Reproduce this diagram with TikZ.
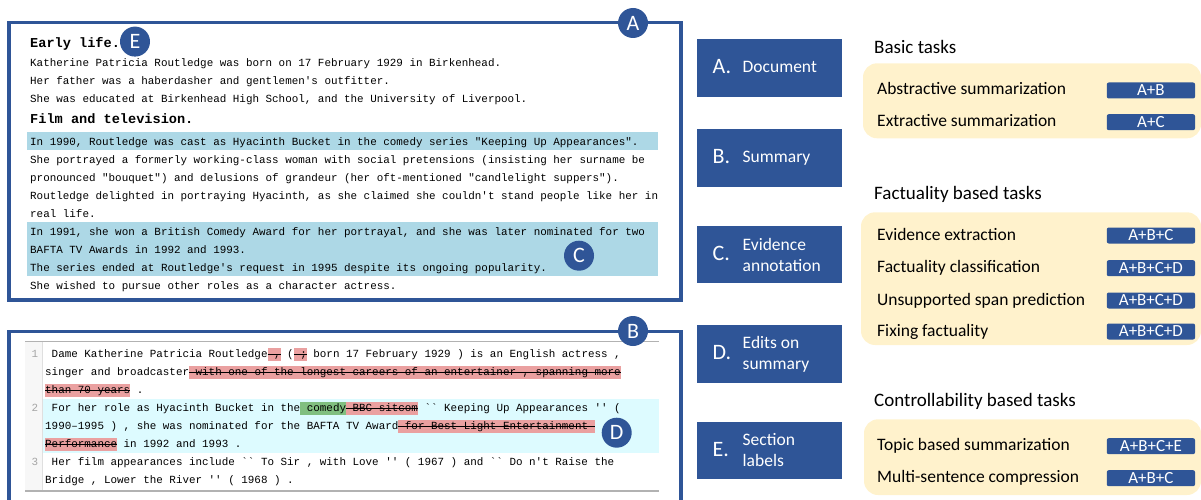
\documentclass[tikz,border=0pt]{standalone}
\usepackage{fontspec}
\setmainfont{Carlito}
\setmonofont{Liberation Mono}
\usetikzlibrary{positioning}

\definecolor{frameblue}{HTML}{2F5597}
\definecolor{hlblue}{HTML}{ADD8E6}
\definecolor{rowcyan}{HTML}{DDFBFF}
\definecolor{delred}{HTML}{EAA0A0}
\definecolor{insgreen}{HTML}{80BF80}
\definecolor{cream}{HTML}{FFF2CC}

\newsavebox\editbox
\newcommand\editstrut{\vrule height 9.3pt depth 2.9pt width 0pt\relax}
\newcommand\deltext[1]{\sbox\editbox{#1}{\setlength\fboxsep{0pt}\colorbox{delred}{\rlap{\rule[2.6pt]{\wd\editbox}{0.7pt}}\editstrut\usebox\editbox}}}
\newcommand\instext[1]{{\setlength\fboxsep{0pt}\colorbox{insgreen}{#1\editstrut}}}

\begin{document}
\begin{tikzpicture}
[x=1pt, y=-1pt,
  panelframe/.style={draw=frameblue, line width=3.3pt},%
  tagcircle/.style={circle, fill=frameblue, text=white, minimum size=30pt, inner sep=0pt, font=\fontsize{22}{22}\selectfont},%
  docline/.style={anchor=west, inner sep=0pt, text height=7.5pt, text depth=2.5pt, font=\ttfamily\fontsize{10.9}{18}\selectfont},%
  dochead/.style={docline, font=\ttfamily\bfseries\fontsize{13.6}{18}\selectfont},%
  gutternum/.style={docline, anchor=center, text=gray!70},%
  labelbox/.style={fill=frameblue, minimum width=145pt, minimum height=57.5pt, inner sep=0pt},%
  boxletter/.style={anchor=base west, inner sep=0pt, text=white, font=\fontsize{22}{22}\selectfont},%
  boxtext/.style={anchor=base west, inner sep=0pt, align=left, text=white, font=\fontsize{17.5}{21}\selectfont},%
  grouphead/.style={anchor=base west, inner sep=0pt, font=\fontsize{19}{22}\selectfont},%
  tasktext/.style={anchor=base west, inner sep=0pt, font=\fontsize{17.5}{21}\selectfont},%
  needbadge/.style={fill=frameblue, rounded corners=2pt, minimum width=88.3pt, minimum height=16pt, inner sep=0pt, text=white, font=\fontsize{17}{17}\selectfont}]
\useasboundingbox (0,0) rectangle (1201,500);

%% document panel (A)
\fill[hlblue] (27,132) rectangle (658,150);
\fill[hlblue] (27,221.7) rectangle (658,275.7);
\node[dochead] (headEarly) at (30,45.2) {Early life.};
\foreach \n/\y/\txt in {1/63.8/{Katherine Patricia Routledge was born on 17 February 1929 in Birkenhead.},
  2/81.8/{Her father was a haberdasher and gentlemen's outfitter.},
  3/99.8/{She was educated at Birkenhead High School, and the University of Liverpool.}}
{
  \node[docline] (early\n) at (30,\y) {\txt};
}
\node[dochead] (headFilm) at (30,120.8) {Film and television.};
\foreach \n/\y/\txt in {1/143.2/{In 1990, Routledge was cast as Hyacinth Bucket in the comedy series "Keeping Up Appearances".},
  2/161.2/{She portrayed a formerly working-class woman with social pretensions (insisting her surname be},
  3/179.2/{pronounced "bouquet") and delusions of grandeur (her oft-mentioned "candlelight suppers").},
  4/197.2/{Routledge delighted in portraying Hyacinth, as she claimed she couldn't stand people like her in},
  5/215.2/{real life.},
  6/233.2/{In 1991, she won a British Comedy Award for her portrayal, and she was later nominated for two},
  7/251.2/{BAFTA TV Awards in 1992 and 1993.},
  8/269.2/{The series ended at Routledge's request in 1995 despite its ongoing popularity.},
  9/287.2/{She wished to pursue other roles as a character actress.}}
{
  \node[docline] (film\n) at (30,\y) {\txt};
}
\draw[panelframe] (9,22.3) rectangle (681,300);

%% summary panel (B)
\fill[gray!6] (25,341.7) rectangle (42,491);
\fill[rowcyan] (42,399) rectangle (659,452.7);
\draw[gray!25] (42,341.7) -- (42,491);
\draw[gray!60, line width=1.2pt] (25,341.7) -- (659,341.7);
\draw[gray!60, line width=1.2pt] (25,491) -- (659,491);
\foreach \n/\y in {1/355.2, 2/409.2, 3/463.2}
{
  \node[gutternum] (num\n) at (35,\y) {\n};
}
\foreach \n/\y/\txt in {1/355.2/{\ Dame Katherine Patricia Routledge\deltext{ ,} (\deltext{ ;} born 17 February 1929 ) is an English actress ,},
  2/373.2/{singer and broadcaster\deltext{ with one of the longest careers of an entertainer , spanning more}},
  3/391.2/{\deltext{than 70 years} .},
  4/409.2/{\ For her role as Hyacinth Bucket in the\instext{ comedy}\deltext{ BBC sitcom} `` Keeping Up Appearances '' (},
  5/427.2/{1990–1995 ) , she was nominated for the BAFTA TV Award\deltext{ for Best Light Entertainment }},
  6/445.2/{\deltext{Performance} in 1992 and 1993 .},
  7/463.2/{\ Her film appearances include `` To Sir , with Love '' ( 1967 ) and `` Do n't Raise the},
  8/481.2/{Bridge , Lower the River '' ( 1968 ) .}}
{
  \node[docline] (summ\n) at (45,\y) {\txt};
}
\draw[panelframe] (9,500) -- (9,331.7) -- (681,331.7) -- (681,500);

%% circled tags
\node[tagcircle] (tagA) at (633,23) {A};
\node[tagcircle] (tagE) at (135,41.6) {E};
\node[tagcircle] (tagC) at (579,255.7) {C};
\node[tagcircle] (tagB) at (633,331) {B};
\node[tagcircle] (tagD) at (616.7,432.7) {D};

%% legend boxes
\foreach \k/\y/\s/\txt in {A/68/-4.7/Document, B/158/-4.7/Summary, C/254.5/-16.6/{Evidence\\annotation},
  D/354/-15.6/{Edits on\\summary}, E/450.5/-16.2/{Section\\labels}}
{
  \node[labelbox] (box\k) at (769.5,\y) {};
  \node[boxletter] (let\k) at ([xshift=15.7pt, yshift=-5.6pt]box\k.west) {\k.};
  \node[boxtext] (txt\k) at ([xshift=45.7pt, yshift=\s pt]box\k.west) {\txt};
}

%% task groups
\fill[cream, rounded corners=14pt] (863,63.3) rectangle (1201,138.3);
\fill[cream, rounded corners=14pt] (861,212.3) rectangle (1201,345);
\fill[cream, rounded corners=14pt] (864,419.3) rectangle (1201,495);
\node[grouphead] (headBasic) at (874,53.3) {Basic tasks};
\node[grouphead] (headFact) at (874,199.3) {Factuality based tasks};
\node[grouphead] (headCtrl) at (874,406.7) {Controllability based tasks};
\foreach \n/\y/\txt/\need in {1/95/Abstractive summarization/A+B, 2/126.7/Extractive summarization/A+C,
  3/240/Evidence extraction/A+B+C, 4/272.7/Factuality classification/A+B+C+D,
  5/305/Unsupported span prediction/A+B+C+D, 6/336/Fixing factuality/A+B+C+D,
  7/450.7/Topic based summarization/A+B+C+E, 8/482.7/Multi-sentence compression/A+B+C}
{
  \node[tasktext] (task\n) at (877,\y) {\txt};
  \node[needbadge] (need\n) at (1150.9,\y-4.5) {\need};
}
\end{tikzpicture}
\end{document}
